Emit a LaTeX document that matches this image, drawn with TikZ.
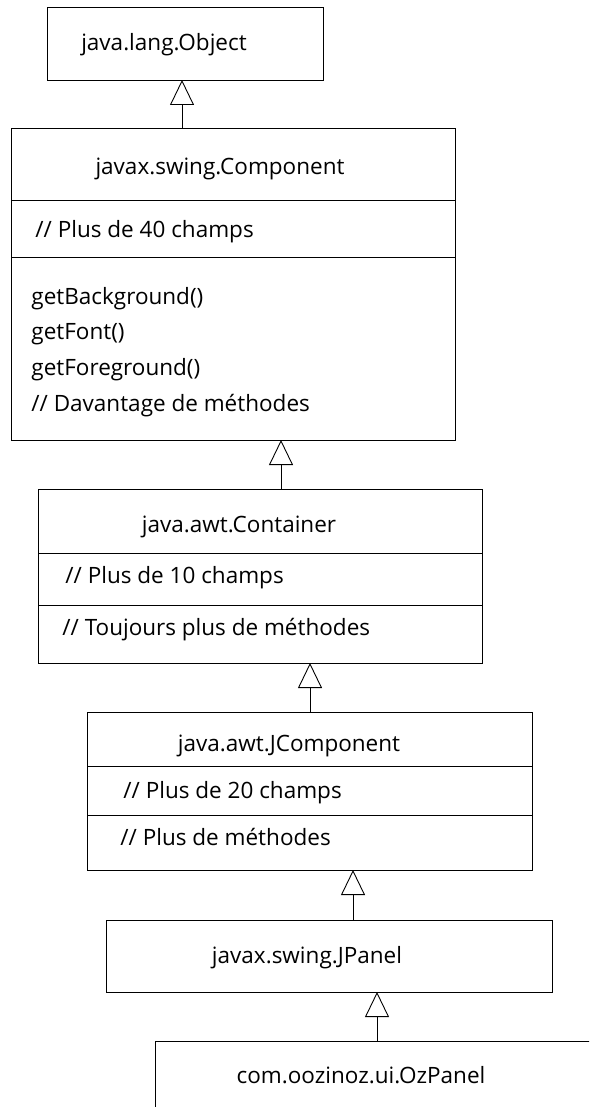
\documentclass[tikz,border=0pt]{standalone}
\usepackage{fontspec}
\setmainfont{Open Sans}
\usetikzlibrary{arrows.meta,positioning}

\begin{document}
\begin{tikzpicture}[x=1pt,y=-1pt,line width=0.9pt,
  box/.style={draw,rectangle,anchor=north west,inner sep=0pt,outer sep=0pt},
  cls/.style={anchor=base,inner sep=0pt,font=\fontsize{22.5}{27}\selectfont},
  txt/.style={anchor=base west,inner sep=0pt,font=\fontsize{22.5}{27}\selectfont},
  inherit/.style={-{Triangle[open,length=25pt,width=24pt]}}]
\useasboundingbox (0,0) rectangle (589,1107);
\clip (0,0) rectangle (589,1107);
% boxes
\node[box,minimum width=276pt,minimum height=73pt] (obj) at (47,7) {};
\node[box,minimum width=444pt,minimum height=72pt] (comp) at (11,128) {};
\node[box,minimum width=444pt,minimum height=57pt,below=0pt of comp] (compf) {};
\node[box,minimum width=444pt,minimum height=183pt,below=0pt of compf] (compm) {};
\node[box,minimum width=444pt,minimum height=64pt] (cont) at (38,489) {};
\node[box,minimum width=444pt,minimum height=52pt,below=0pt of cont] (contf) {};
\node[box,minimum width=444pt,minimum height=58pt,below=0pt of contf] (contm) {};
\node[box,minimum width=445pt,minimum height=54pt] (jcomp) at (87,712) {};
\node[box,minimum width=445pt,minimum height=49pt,below=0pt of jcomp] (jcompf) {};
\node[box,minimum width=445pt,minimum height=55pt,below=0pt of jcompf] (jcompm) {};
\node[box,minimum width=446pt,minimum height=72pt] (jpanel) at (106,920) {};
\node[box,minimum width=500pt,minimum height=100pt] (ozpanel) at (155,1041) {};
% texts
\node[cls] (objname) at (164,51) {java.lang.Object};
\node[cls] (compname) at (220,175) {javax.swing.Component};
\node[txt] (compfields) at (35,237) {// Plus de 40 champs};
\node[txt] (getbg) at (31,304) {getBackground()};
\node[txt] (getfont) at (31,339) {getFont()};
\node[txt] (getfg) at (31,375) {getForeground()};
\node[txt] (compmore) at (31,411) {// Davantage de méthodes};
\node[cls] (contname) at (239,532) {java.awt.Container};
\node[txt] (contfields) at (65,583) {// Plus de 10 champs};
\node[txt] (contmore) at (62,635) {// Toujours plus de méthodes};
\node[cls] (jcompname) at (289,751) {java.awt.JComponent};
\node[txt] (jcompfields) at (123,798) {// Plus de 20 champs};
\node[txt] (jcompmore) at (120,845) {// Plus de méthodes};
\node[cls] (jpanelname) at (307,963) {javax.swing.JPanel};
\node[cls] (ozname) at (361,1083) {com.oozinoz.ui.OzPanel};
% inheritance
\draw[inherit] (comp.north -| 182,0) -- (obj.south -| 182,0);
\draw[inherit] (cont.north -| 281,0) -- (compm.south -| 281,0);
\draw[inherit] (jcomp.north -| 310,0) -- (contm.south -| 310,0);
\draw[inherit] (jpanel.north -| 353,0) -- (jcompm.south -| 353,0);
\draw[inherit] (ozpanel.north -| 377,0) -- (jpanel.south -| 377,0);
\end{tikzpicture}
\end{document}
